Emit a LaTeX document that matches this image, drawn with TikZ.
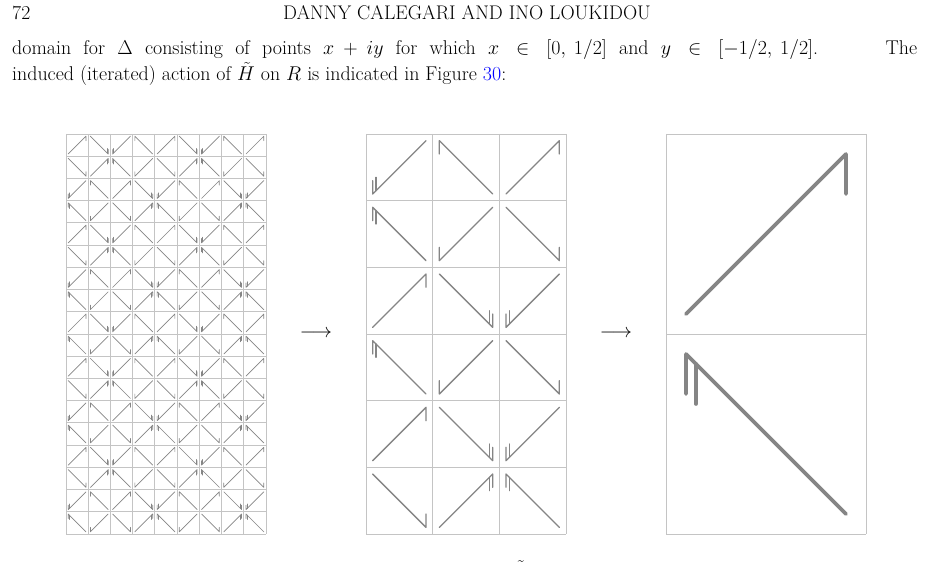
\RequirePackage{fix-cm}
\documentclass[tikz,border=0pt]{standalone}
\usepackage{xcolor}
\usetikzlibrary{positioning}
\definecolor{gridGray}{HTML}{C4C4C4}
\definecolor{markGray}{HTML}{858585}
\definecolor{linkBlue}{HTML}{0000FF}
\tikzset{
  % --- cells and their marked diagonals ----------------------------------
  gridline/.style  = {draw=gridGray, line width=0.8bp},
  diagline/.style  = {draw=markGray, line cap=round, line join=round},
  finediag/.style  = {diagline, line width=0.7bp},
  middiag/.style   = {diagline, line width=1.3bp},
  bolddiag/.style  = {diagline, line width=3.6bp},
  % --- text ----------------------------------------------------------------
  bodytext/.style  = {font=\fontsize{20}{26}\selectfont, inner sep=0pt},
  headtext/.style  = {font=\fontsize{19.8}{22}\selectfont, inner sep=0pt},
}
% grid of square cells: X0, Y0, cell size, columns, rows
\newcommand{\cellgrid}[5]{%
  \foreach \gi in {0,...,#4}{%
    \draw[gridline] ({#1+\gi*#3},#2) -- ++(0,{#5*#3});}%
  \foreach \gj in {0,...,#5}{%
    \draw[gridline] (#1,{#2+\gj*#3}) -- ++({#4*#3},0);}%
}
% marked diagonal in one cell: [style] X, Y, size, sx, sy, ticks
% (sx,sy) picks the marked corner, -1/-1 = top left, 1/1 = bottom right
\newcommand{\hookdiag}[7][finediag]{%
  \draw[#1] ({#2+(0.5+0.4*(#5))*#4},{#3+(0.5+0.4*(#6))*#4-0.2*(#6)*#4})
         -- ({#2+(0.5+0.4*(#5))*#4},{#3+(0.5+0.4*(#6))*#4})
         -- ({#2+(0.5-0.4*(#5))*#4},{#3+(0.5-0.4*(#6))*#4});
  \ifnum#7>1
  \draw[#1] ({#2+(0.5+0.35*(#5))*#4},{#3+(0.5+0.35*(#6))*#4})
         -- ++(0,{-0.2*(#6)*#4});
  \fi
}
% rows of the fine panel (9 cells each)
\newcommand{\finerowA}{1/-1/1,1/1/2,-1/1/2,-1/-1/1,1/-1/1,1/1/2,-1/1/2,-1/-1/1,1/-1/1}
\newcommand{\finerowB}{1/1/1,1/-1/2,-1/-1/2,-1/1/1,1/1/1,1/-1/2,-1/-1/2,-1/1/1,1/1/1}
\newcommand{\finerowC}{-1/1/2,-1/-1/1,1/-1/1,1/1/2,-1/1/2,-1/-1/1,1/-1/1,1/1/2,-1/1/2}
\newcommand{\finerowD}{-1/-1/2,-1/1/1,1/1/1,1/-1/2,-1/-1/2,-1/1/1,1/1/1,1/-1/2,-1/-1/2}
% rows of the middle panel (3 cells each)
\newcommand{\midrowA}{-1/1/2,-1/-1/1,1/-1/1}
\newcommand{\midrowB}{-1/-1/2,-1/1/1,1/1/1}
\newcommand{\midrowC}{1/-1/1,1/1/2,-1/1/2}
\newcommand{\midrowD}{1/1/1,1/-1/2,-1/-1/2}

\begin{document}
\begin{tikzpicture}[x=1bp,y=-1bp]
\useasboundingbox[fill=white] (0,0) rectangle (930,579);

% ============================ page text ====================================
\node[headtext, anchor=base west] (pagenum) at (12,20) {72};
\node[headtext, anchor=base] (runhead) at (467,20)
     {DANNY CALEGARI AND INO LOUKIDOU};

\node[bodytext, anchor=base west] (lineone) at (12,55)
     {\hbox to 905bp{\hbox to 806bp{\thinmuskip=3mu plus 2mu
      domain for $\Delta$ consisting of points
      $x+iy$ for which $x\in[0,1/2]$ and $y\in[-1/2,1/2]$.}\hfill The}};
\node[bodytext, anchor=base west] (linetwo) at (12,81)
     {induced (iterated) action of $\tilde{H}$ on $R$ is indicated in
      Figure \textcolor{linkBlue}{30}:};

% ======================= LEFT: second iterate (9 x 18) =====================
\cellgrid{66}{134}{22.222}{9}{18}
\foreach \rw [count=\r from 0] in {A,B,C,D,A,B,C,D,A,D,A,B,C,D,A,B,C,D}{
  \edef\cells{\csname finerow\rw\endcsname}
  \foreach \sx/\sy/\n [count=\c from 0] in \cells
    {\hookdiag[finediag]{66+\c*22.222}{134+\r*22.222}{22.222}{\sx}{\sy}{\n}}
}

% ======================= MIDDLE: first iterate (3 x 6) =====================
\cellgrid{366}{134}{66.667}{3}{6}
\foreach \rw [count=\r from 0] in {A,B,C,B,C,D}{
  \edef\cells{\csname midrow\rw\endcsname}
  \foreach \sx/\sy/\n [count=\c from 0] in \cells
    {\hookdiag[middiag]{366+\c*66.667}{134+\r*66.667}{66.667}{\sx}{\sy}{\n}}
}

% ======================= RIGHT: the domain R (1 x 2) =======================
\cellgrid{666}{134}{200}{1}{2}
\hookdiag[bolddiag]{666}{134}{200}{1}{-1}{1}
\hookdiag[bolddiag]{666}{334}{200}{-1}{-1}{2}

% ================================ arrows ===================================
\node[bodytext] (arrowone) at (316,334) {$\longrightarrow$};
\node[bodytext] (arrowtwo) at (616,334) {$\longrightarrow$};

% caption, cut off at the page edge
\node[bodytext, anchor=north] (captilde) at (521,560) {\char"02DC};

\end{tikzpicture}
\end{document}
